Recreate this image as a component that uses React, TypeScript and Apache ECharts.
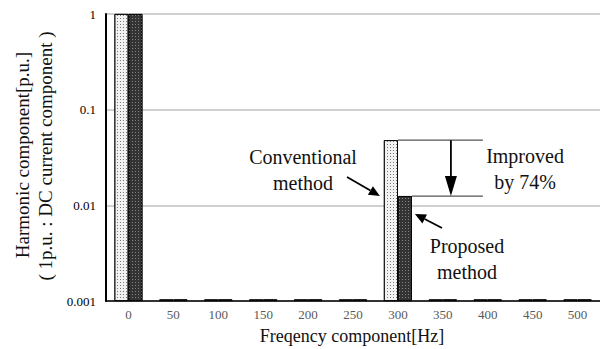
import React, { useEffect, useRef } from "react";
import * as echarts from "echarts";

const categories = ["0", "50", "100", "150", "200", "250", "300", "350", "400", "450", "500"];
const conventional = [1, 0.00104, 0.00104, 0.00104, 0.00104, 0.00104, 0.048, 0.00104, 0.00104, 0.00104, 0.00104];
const proposed = [1, 0.00104, 0.00104, 0.00104, 0.00104, 0.00104, 0.0125, 0.00104, 0.00104, 0.00104, 0.00104];
const yTicks = [0.001, 0.01, 0.1, 1];
const notes = ["Conventional\nmethod", "Proposed\nmethod", "Improved\nby 74%"];

const SERIF = "Liberation Serif";
const decadeMin = Math.log10(yTicks[0]);
const toDecades = (v: number) => Math.log10(v) - decadeMin;

function arrow(x1: number, y1: number, x2: number, y2: number, len: number, hw: number, lw: number) {
  const dx = x2 - x1, dy = y2 - y1;
  const d = Math.sqrt(dx * dx + dy * dy);
  const ux = dx / d, uy = dy / d;
  const bx = x2 - ux * len, by = y2 - uy * len;
  const px = -uy, py = ux;
  return [
    { type: "line", shape: { x1, y1, x2: bx, y2: by }, style: { stroke: "#000", lineWidth: lw } },
    {
      type: "polygon",
      shape: { points: [[x2, y2], [bx + px * hw, by + py * hw], [bx - px * hw, by - py * hw]] },
      style: { fill: "#000" },
    },
  ];
}

export default function App() {
  const ref = useRef<HTMLDivElement>(null);
  useEffect(() => {
    if (!ref.current) return;
    const chart = echarts.init(ref.current, null, { renderer: "svg" });
    const noteTitle = (text: string, cx: number, cy: number) => ({
      text,
      left: cx,
      top: cy - 26,
      textAlign: "center",
      padding: 0,
      textStyle: {
        fontFamily: SERIF,
        fontSize: 20,
        fontWeight: "normal",
        color: "#111",
        lineHeight: 26,
      },
    });
    const option: any = {
      animation: false,
      backgroundColor: "#fff",
      aria: { enabled: true, decal: { show: true } },
      textStyle: { fontFamily: SERIF },
      title: [
        noteTitle(notes[0], 303, 170),
        noteTitle(notes[1], 467, 259),
        noteTitle(notes[2], 525, 169),
      ],
      grid: { left: 106, right: 0, top: 14, bottom: 48 },
      xAxis: {
        type: "category",
        data: categories,
        axisLine: { lineStyle: { color: "#000", width: 1.5 } },
        axisTick: { show: false },
        axisLabel: { color: "#595959", fontSize: 13, fontFamily: SERIF, margin: 7 },
      },
      yAxis: {
        type: "value",
        min: 0,
        max: toDecades(yTicks[yTicks.length - 1]),
        interval: 1,
        axisLine: { show: true, lineStyle: { color: "#000", width: 2 } },
        axisTick: { show: false },
        splitLine: { lineStyle: { color: "#c0c0c0", width: 1.5 } },
        axisLabel: {
          color: "#000",
          fontSize: 13,
          fontFamily: SERIF,
          margin: 10,
          formatter: (v: number) => {
            const t = yTicks[Math.round(v)];
            return t === undefined ? "" : String(t);
          },
        },
      },
      series: [
        {
          name: "Conventional method",
          type: "bar",
          data: conventional.map(toDecades),
          barWidth: 14,
          barGap: "0%",
          itemStyle: {
            color: "#f2f2f2",
            borderColor: "#000",
            borderWidth: 0.8,
            decal: {
              symbol: "rect",
              symbolSize: 1,
              color: "rgba(70,70,70,0.7)",
              dashArrayX: [1, 2],
              dashArrayY: [1, 2],
              rotation: 0,
            },
          },
        },
        {
          name: "Proposed method",
          type: "bar",
          data: proposed.map(toDecades),
          barWidth: 14,
          itemStyle: {
            color: "#333",
            borderColor: "#000",
            borderWidth: 0.8,
            decal: {
              symbol: "rect",
              symbolSize: 1,
              color: "rgba(140,140,140,0.9)",
              dashArrayX: [1, 2],
              dashArrayY: [1, 2],
              rotation: 0,
            },
          },
        },
      ],
    };
    chart.setOption(option);

    const idx = 6;
    const pc = chart.convertToPixel({ xAxisIndex: 0, yAxisIndex: 0 }, [idx, toDecades(conventional[idx])]) as number[];
    const pp = chart.convertToPixel({ xAxisIndex: 0, yAxisIndex: 0 }, [idx, toDecades(proposed[idx])]) as number[];
    const cx = pc[0];
    const yTop = pc[1];
    const yBot = pp[1];
    const lineEnd = cx + 85;
    const varrX = cx + 53;

    const txt = (text: string, x: number, y: number, size: number, rotation = 0) => ({
      type: "text",
      x,
      y,
      rotation,
      style: {
        text,
        fill: "#111",
        fontFamily: SERIF,
        fontSize: size,
        align: "center",
        verticalAlign: "middle",
      },
    });

    const graphic: any[] = [
      { type: "line", shape: { x1: cx, y1: yTop, x2: lineEnd, y2: yTop }, style: { stroke: "#555", lineWidth: 1.3 } },
      { type: "line", shape: { x1: cx + 14, y1: yBot, x2: lineEnd, y2: yBot }, style: { stroke: "#555", lineWidth: 1.3 } },
      ...arrow(varrX, yTop, varrX, yBot, 20, 6, 1.8),
      ...arrow(347, 177, cx - 18, 196, 11, 5, 1.8),
      ...arrow(442, 228, cx + 17, 214, 11, 5, 1.8),
      txt("Freqency component[Hz]", 352, 336, 18),
      txt("Harmonic component[p.u.]", 22, 155, 19, Math.PI / 2),
      txt("( 1p.u. : DC current component )", 45, 156, 19, Math.PI / 2),
    ];
    chart.setOption({ graphic });

    return () => chart.dispose();
  }, []);
  return (
    <div
      ref={ref}
      style={{ position: "fixed", left: 0, top: 0, width: 600, height: 349 }}
    />
  );
}
